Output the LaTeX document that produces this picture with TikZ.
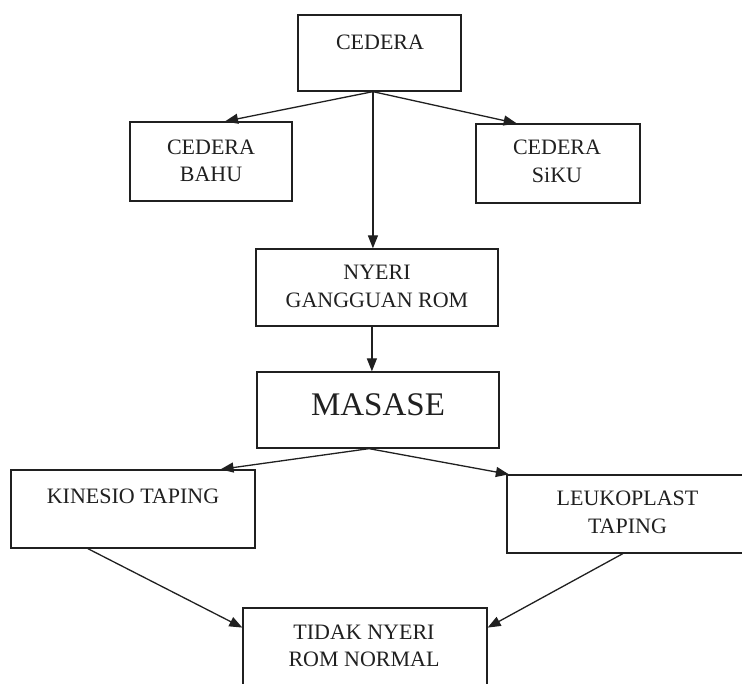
\documentclass[tikz,border=0pt]{standalone}
\usepackage{fontspec}
\setmainfont{Liberation Serif}
\usetikzlibrary{arrows.meta,calc}
\definecolor{ink}{HTML}{202020}
\tikzset{
  boxnode/.style={draw=ink, line width=1.3pt, inner sep=0pt, rectangle},
  lbl/.style={font=\fontsize{22}{27.5}\selectfont, text=ink, align=center, inner sep=0pt},
  biglbl/.style={font=\fontsize{33}{38}\selectfont, text=ink, align=center, inner sep=0pt},
  conn/.style={draw=ink, line width=1.3pt, -{Triangle[length=13pt,width=10pt]}}
}
\begin{document}
\begin{tikzpicture}[x=1pt,y=-1pt]
\useasboundingbox (0,0) rectangle (742,684);
\clip (0,0) rectangle (742,684);
\fill[white] (0,0) rectangle (742,684);

% boxes
\node[boxnode, minimum width=163pt, minimum height=76pt] (cedera) at (379.5,53) {};
\node[boxnode, minimum width=162pt, minimum height=79pt] (bahu) at (211,161.5) {};
\node[boxnode, minimum width=164pt, minimum height=79pt] (siku) at (558,163.5) {};
\node[boxnode, minimum width=242pt, minimum height=77pt] (nyeri) at (377,287.5) {};
\node[boxnode, minimum width=242pt, minimum height=76pt] (masase) at (378,410) {};
\node[boxnode, minimum width=244pt, minimum height=78pt] (kinesio) at (133,509) {};
\node[boxnode, minimum width=253pt, minimum height=78pt] (leuko) at (633.5,514) {};
\node[boxnode, minimum width=244pt, minimum height=92pt] (tidak) at (365,654) {};

% texts
\node[lbl] (cederat) at (380,42) {CEDERA};
\node[lbl] (bahut) at (211,161) {CEDERA\\BAHU};
\node[lbl] (sikut) at (557,161.5) {CEDERA\\SiKU};
\node[lbl] (nyerit) at (377,286.5) {NYERI\\GANGGUAN ROM};
\node[biglbl] (masaset) at (378,405) {MASASE};
\node[lbl] (kinesiot) at (133,496) {KINESIO TAPING};
\node[lbl] (leukot) at (627.5,512.5) {LEUKOPLAST\\TAPING};
\node[lbl] (tidakt) at (364,646) {TIDAK NYERI\\ROM NORMAL};

% connectors
\coordinate (cb) at ($(cedera.south west)!0.46!(cedera.south east)$);
\draw[conn] (cb) -- ($(bahu.north west)!0.586!(bahu.north east)$);
\draw[conn] (cb) -- ($(siku.north west)!0.25!(siku.north east)$);
\draw[conn] (cb) -- (cb |- nyeri.north);

\coordinate (nb) at ($(nyeri.south west)!0.479!(nyeri.south east)$);
\draw[conn] (nb) -- (nb |- masase.north);

\coordinate (mb) at ($(masase.south west)!0.463!(masase.south east)$);
\draw[conn] (mb) -- ($(kinesio.north west)!0.857!(kinesio.north east)$);
\draw[conn] (mb) -- ($(leuko.north west)!0.01!(leuko.north east)$);

\draw[conn] ($(kinesio.south west)!0.316!(kinesio.south east)$) -- ($(tidak.north west)!0.217!(tidak.south west)$);
\draw[conn] ($(leuko.south west)!0.458!(leuko.south east)$) -- ($(tidak.north east)!0.217!(tidak.south east)$);
\end{tikzpicture}
\end{document}
